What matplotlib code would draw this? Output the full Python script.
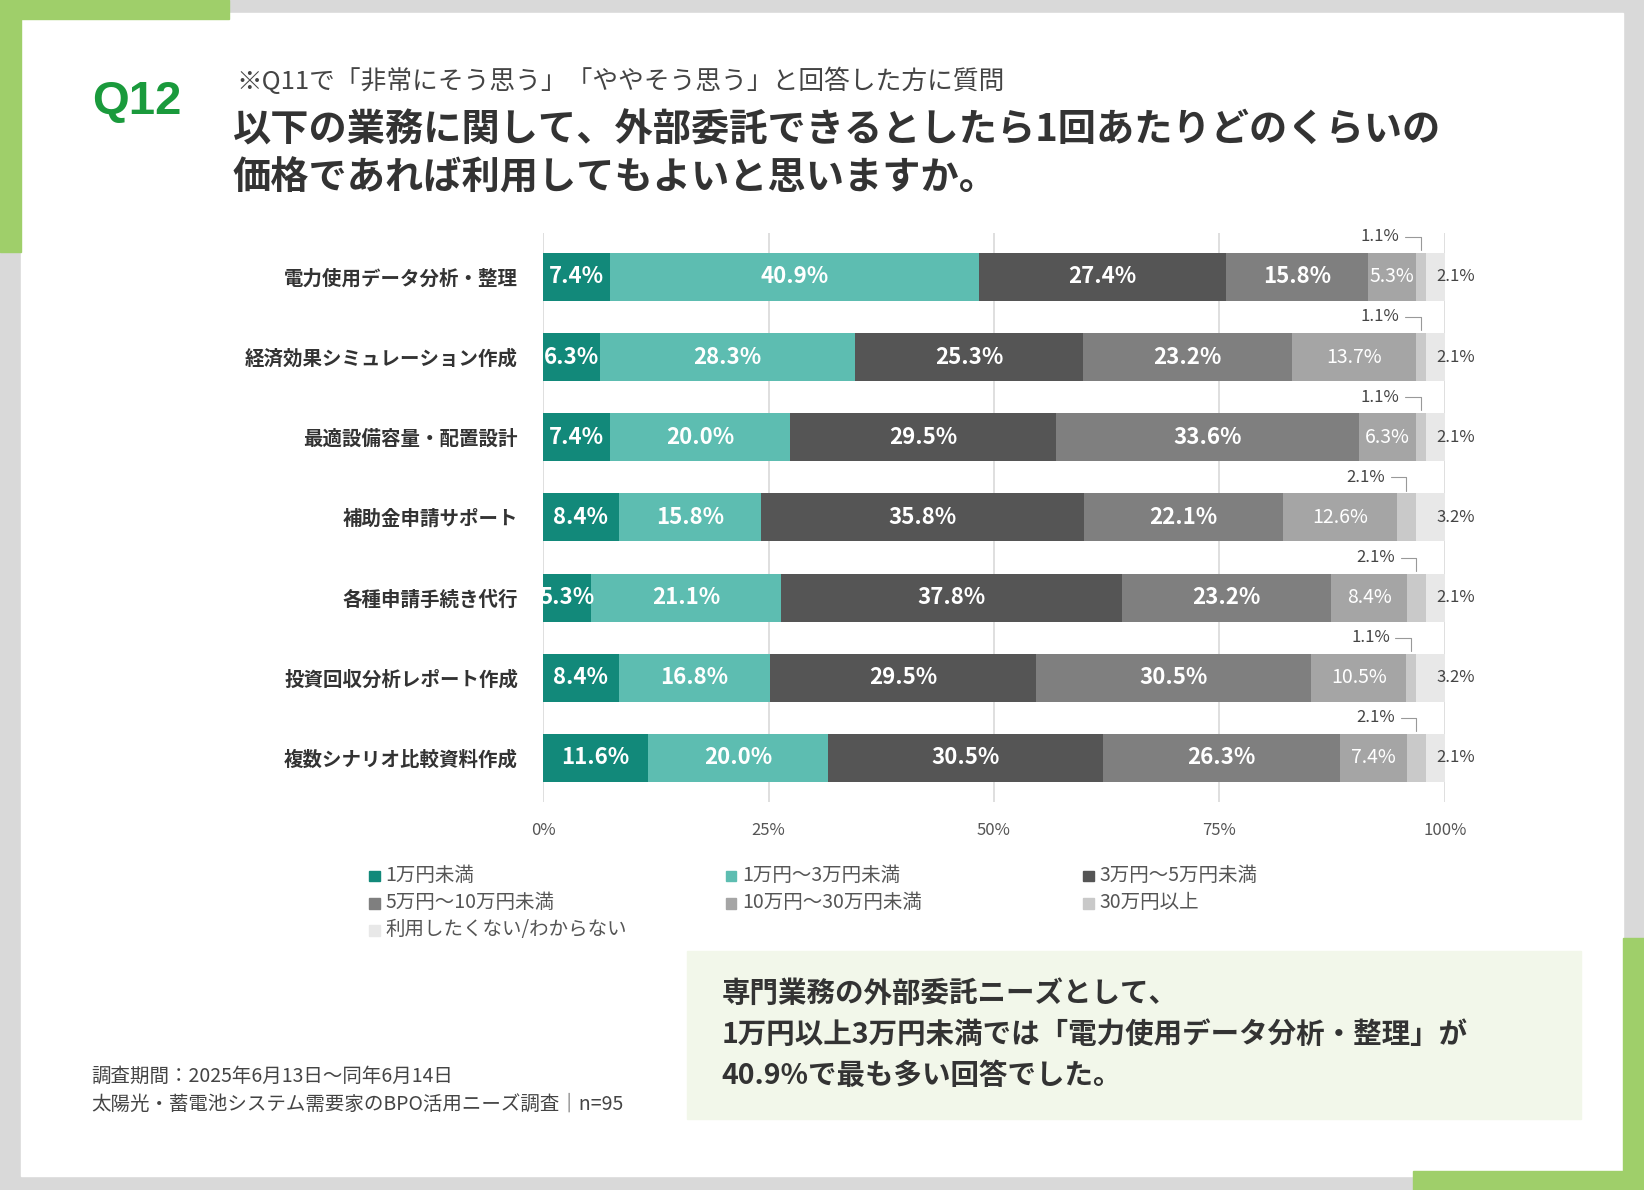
import matplotlib
matplotlib.use("Agg")
import matplotlib.pyplot as plt
from matplotlib.patches import Rectangle

plt.rcParams['font.family'] = ['Noto Sans CJK JP', 'DejaVu Sans']

categories = ["電力使用データ分析・整理", "経済効果シミュレーション作成", "最適設備容量・配置設計",
              "補助金申請サポート", "各種申請手続き代行", "投資回収分析レポート作成", "複数シナリオ比較資料作成"]
series_names = ["1万円未満", "1万円～3万円未満", "3万円～5万円未満", "5万円～10万円未満",
                "10万円～30万円未満", "30万円以上", "利用したくない/わからない"]
values = [
    [7.4, 40.9, 27.4, 15.8, 5.3, 1.1, 2.1],
    [6.3, 28.3, 25.3, 23.2, 13.7, 1.1, 2.1],
    [7.4, 20.0, 29.5, 33.6, 6.3, 1.1, 2.1],
    [8.4, 15.8, 35.8, 22.1, 12.6, 2.1, 3.2],
    [5.3, 21.1, 37.8, 23.2, 8.4, 2.1, 2.1],
    [8.4, 16.8, 29.5, 30.5, 10.5, 1.1, 3.2],
    [11.6, 20.0, 30.5, 26.3, 7.4, 2.1, 2.1],
]
ticks = [0, 25, 50, 75, 100]
tick_labels = ["0%", "25%", "50%", "75%", "100%"]
colors = ["#12897a", "#5dbdb1", "#555555", "#7f7f7f", "#a5a5a5", "#c9c9c9", "#e8e8e8"]

fig = plt.figure(figsize=(16.44, 11.90), dpi=100)
fig.patch.set_facecolor("#d9d9d9")

def px(x, y):
    return x / 1568, 1 - y / 1135

def rect(x0, y0, x1, y1, c):
    fig.patches.append(Rectangle((x0/1568, 1-y1/1135), (x1-x0)/1568, (y1-y0)/1135,
                                 transform=fig.transFigure, color=c, zorder=-10))

rect(20, 12, 1548, 1122, "white")
rect(0, 0, 218, 18, "#9fcf6a"); rect(0, 0, 20, 240, "#9fcf6a")
rect(1548, 895, 1568, 1135, "#9fcf6a"); rect(1348, 1117, 1568, 1135, "#9fcf6a")
rect(655, 907, 1508, 1067, "#f2f7ea")

fig.text(*px(88, 97), "Q12", color="#1a9a3c", fontsize=34, fontweight="bold", va="center", family="Liberation Sans")
fig.text(*px(225, 78), "※Q11で「非常にそう思う」「ややそう思う」と回答した方に質問", fontsize=18.5, color="#444444", va="center")
fig.text(*px(222, 124), "以下の業務に関して、外部委託できるとしたら1回あたりどのくらいの", fontsize=27.5, fontweight="bold", color="#333333", va="center")
fig.text(*px(222, 170), "価格であれば利用してもよいと思いますか。", fontsize=27.5, fontweight="bold", color="#333333", va="center")

l, r = 518/1568, 1378/1568
ax = fig.add_axes([l, 1-765/1135, r-l, (765-222)/1135], zorder=5)
n = len(categories)
ypos = list(range(n))[::-1]
for i, row in enumerate(values):
    left = 0
    y = ypos[i]
    for j, v in enumerate(row):
        ax.barh(y, v, left=left, height=0.6, color=colors[j], zorder=2)
        cx = left + v / 2
        if j < 5:
            ax.text(cx, y, f"{v:.1f}%", ha="center", va="center", color="white",
                    fontsize=16 if j < 4 else 14, fontweight="bold" if j < 4 else "normal", zorder=3)
        elif j == 5:
            ax.annotate(f"{v:.1f}%", xy=(cx, y + 0.3), xytext=(cx - 4.5, y + 0.5),
                        ha="center", va="center", fontsize=12, color="#444444",
                        arrowprops=dict(arrowstyle="-", color="#999999", lw=0.8,
                                        connectionstyle="angle,angleA=0,angleB=90,rad=0"), zorder=3)
        else:
            ax.text(101.2, y, f"{v:.1f}%", ha="center", va="center", fontsize=12, color="#444444", zorder=3)
        left += v
ax.set_xlim(0, 100)
ax.set_ylim(-0.55, n - 0.45)
ax.set_yticks(ypos)
ax.set_yticklabels(categories, fontsize=14, fontweight="bold", color="#333333")
ax.set_xticks(ticks)
ax.set_xticklabels(tick_labels, fontsize=12, color="#555555")
ax.tick_params(length=0, pad=14)
ax.tick_params(axis="y", pad=18)
ax.grid(axis="x", color="#d9d9d9", lw=1.2, zorder=0)
for s in ax.spines.values():
    s.set_visible(False)
ax.set_facecolor("none")

leg_pos = [(352, 835), (692, 835), (1033, 835), (352, 861), (692, 861), (1033, 861), (352, 887)]
for (x, y), name, c in zip(leg_pos, series_names, colors):
    fx, fy = px(x, y)
    fig.patches.append(Rectangle((fx, fy - 0.005), 0.0065, 0.009, transform=fig.transFigure, color=c))
    fig.text(fx + 0.01, fy, name, fontsize=14, color="#555555", va="center")

fig.text(*px(87, 1027), "調査期間：2025年6月13日～同年6月14日", fontsize=14, color="#444444", va="center")
fig.text(*px(87, 1053), "太陽光・蓄電池システム需要家のBPO活用ニーズ調査｜n=95", fontsize=14, color="#444444", va="center")

for yy, t in [(948, "専門業務の外部委託ニーズとして、"), (987, "1万円以上3万円未満では「電力使用データ分析・整理」が"),
              (1026, "40.9%で最も多い回答でした。")]:
    fig.text(*px(688, yy), t, fontsize=20.5, fontweight="bold", color="#333333", va="center")

fig.savefig("out.png", dpi=100)
